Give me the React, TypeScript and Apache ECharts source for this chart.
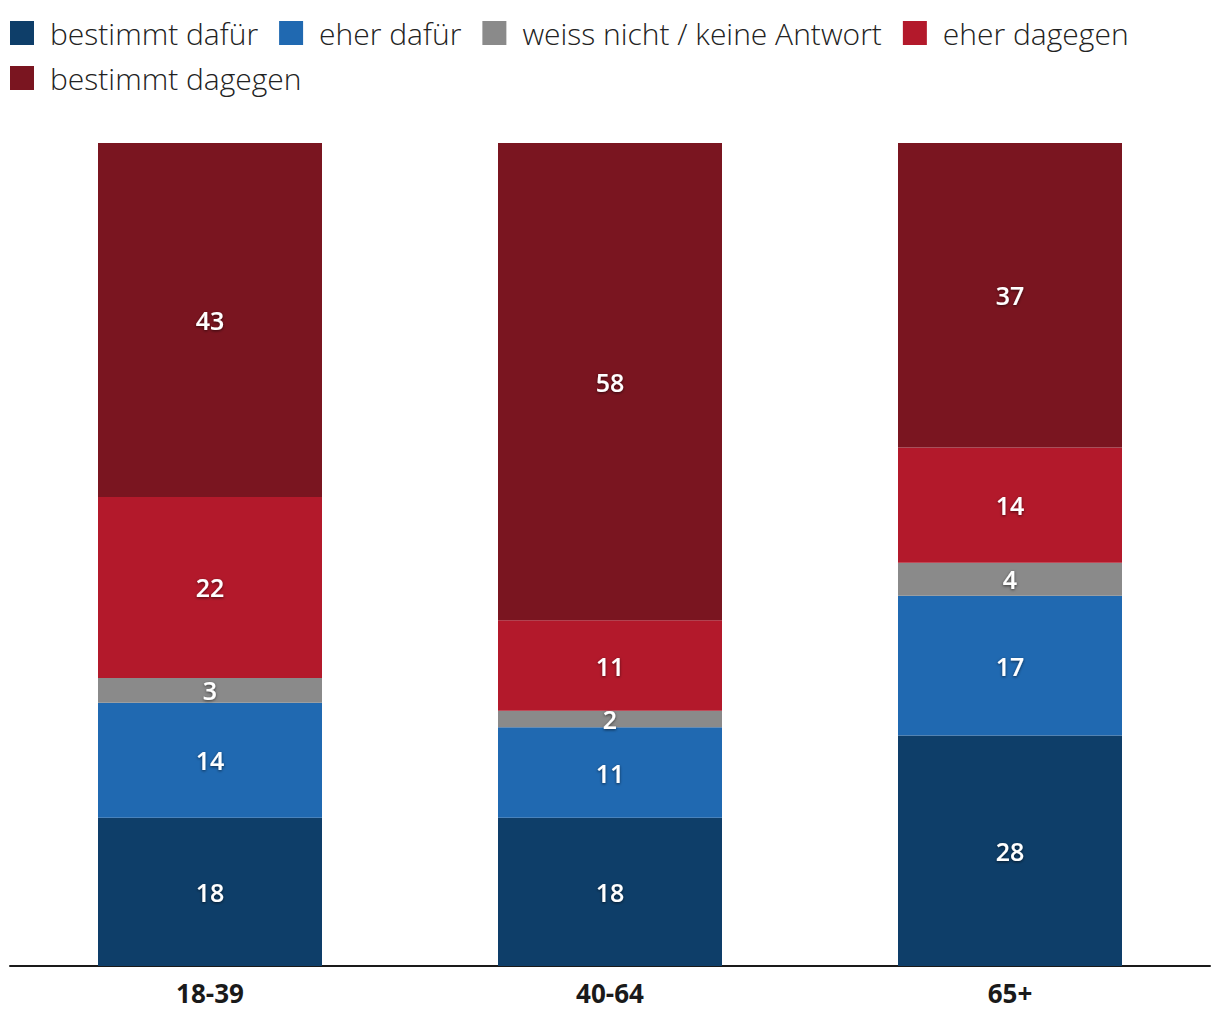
import React, { useEffect, useRef } from "react";
import * as echarts from "echarts";

const categories = ["18-39", "40-64", "65+"];
const seriesNames = [
  "bestimmt dafür",
  "eher dafür",
  "weiss nicht / keine Antwort",
  "eher dagegen",
  "bestimmt dagegen",
];
const bestimmtDafuer = [18, 18, 28];
const eherDafuer = [14, 11, 17];
const weissNicht = [3, 2, 4];
const eherDagegen = [22, 11, 14];
const bestimmtDagegen = [43, 58, 37];
const colors = ["#0e3e69", "#2069b1", "#8a8a8a", "#b3192b", "#7a1520"];

export default function App() {
  const ref = useRef<HTMLDivElement>(null);
  useEffect(() => {
    document.body.style.margin = "0";
    const chart = echarts.init(ref.current!, null, { renderer: "svg" });
    const values = [bestimmtDafuer, eherDafuer, weissNicht, eherDagegen, bestimmtDagegen];
    const legendBase = {
      left: 10,
      padding: 0,
      itemWidth: 24,
      itemHeight: 24,
      itemGap: 21,
      icon: "rect",
      textStyle: {
        fontFamily: "'Open Sans', sans-serif",
        fontWeight: 300,
        fontSize: 30,
        color: "#222",
        lineHeight: 24,
        padding: [0, 0, 0, 11],
      },
    };
    chart.setOption({
      animation: false,
      legend: [
        { ...legendBase, top: 18, data: seriesNames.slice(0, 4) },
        { ...legendBase, top: 63, data: seriesNames.slice(4) },
      ],
      grid: { left: 10, right: 10, top: 143, bottom: 54, containLabel: false },
      xAxis: {
        type: "category",
        data: categories,
        axisLine: { lineStyle: { color: "#1a1a1a", width: 2 } },
        axisTick: { show: false },
        axisLabel: {
          margin: 14,
          fontFamily: "'Open Sans', sans-serif",
          fontWeight: "bold",
          fontSize: 26,
          color: "#1a1a1a",
        },
      },
      yAxis: { type: "value", min: 0, max: 100, show: false, splitLine: { show: false } },
      series: seriesNames.map((name, i) => ({
        name,
        type: "bar",
        stack: "total",
        barWidth: "56%",
        data: values[i],
        itemStyle: { color: colors[i] },
        label: {
          show: true,
          position: "inside",
          color: "#fff",
          fontFamily: "'Open Sans', sans-serif",
          fontWeight: 600,
          fontSize: 25,
          textShadowColor: "rgba(0,0,0,0.6)",
          textShadowBlur: 3,
          textShadowOffsetY: 1,
        },
      })),
    });
    return () => chart.dispose();
  }, []);
  return <div ref={ref} style={{ width: 1220, height: 1020 }} />;
}
